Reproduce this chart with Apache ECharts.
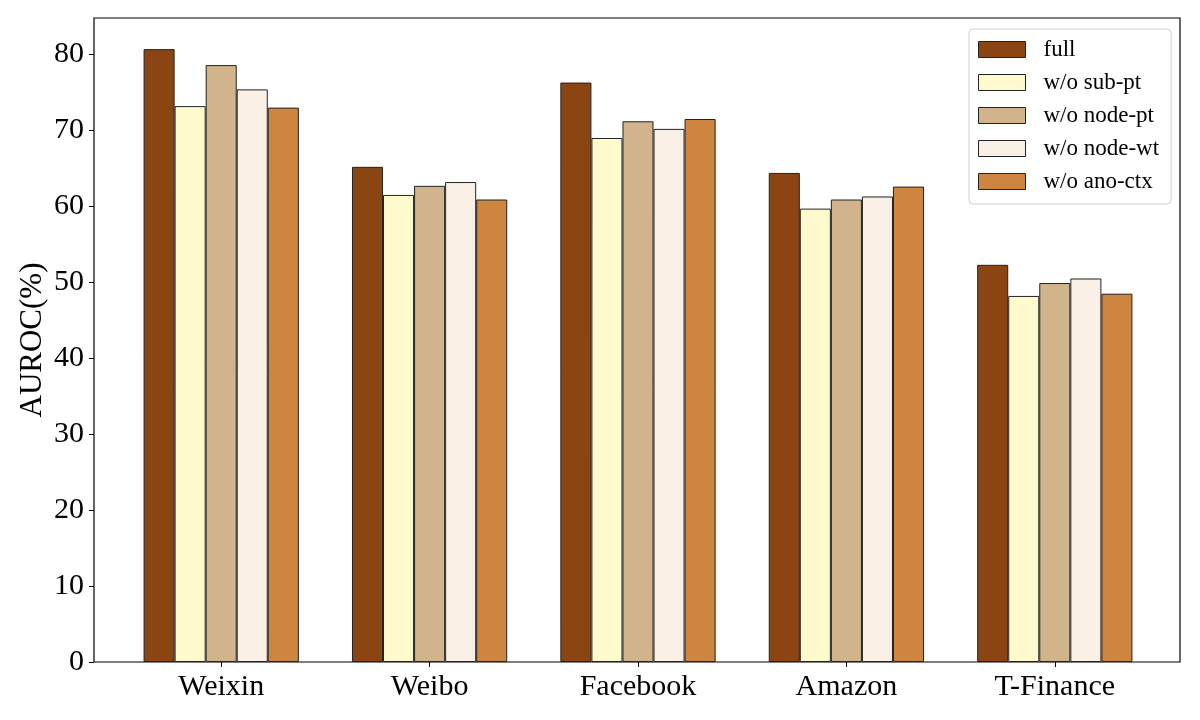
<!DOCTYPE html>
<html>
<head>
<meta charset="utf-8">
<script src="https://cdn.jsdelivr.net/npm/echarts@6/dist/echarts.min.js"></script>
<style>html,body{margin:0;padding:0;background:#fff;}#c{width:1200px;height:720px;}</style>
</head>
<body>
<div id="c"></div>
<script>
const categories = ['Weixin', 'Weibo', 'Facebook', 'Amazon', 'T-Finance'];
const seriesNames = ['full', 'w/o sub-pt', 'w/o node-pt', 'w/o node-wt', 'w/o ano-ctx'];
const full      = [80.7, 65.2, 76.3, 64.4, 52.3];
const woSubPt   = [73.2, 61.5, 69.0, 59.7, 48.2];
const woNodePt  = [78.6, 62.7, 71.2, 60.9, 49.9];
const woNodeWt  = [75.4, 63.2, 70.2, 61.3, 50.5];
const woAnoCtx  = [73.0, 60.9, 71.5, 62.6, 48.5];
const yTicks = [0, 10, 20, 30, 40, 50, 60, 70, 80];

const colors = ['#8B4513', '#FFFACD', '#D2B48C', '#FAF0E6', '#CD853F'];
const values = [full, woSubPt, woNodePt, woNodeWt, woAnoCtx];
const font = 'Liberation Serif, Times New Roman, serif';

const chart = echarts.init(document.getElementById('c'), null, {renderer: 'canvas'});
chart.setOption({
  animation: false,
  backgroundColor: '#fff',
  color: colors,
  grid: [
    {left: 94, right: 20, top: 18, bottom: 58, show: true, borderColor: '#000', borderWidth: 1.2, backgroundColor: 'transparent'},
    {left: 117, right: 41, top: 18, bottom: 58}
  ],
  legend: {
    left: 969, top: 29,
    orient: 'vertical',
    icon: 'rect',
    itemWidth: 47, itemHeight: 16, itemGap: 10,
    padding: [9, 12, 11, 9],
    borderColor: '#d0d0d0', borderWidth: 1, borderRadius: 4,
    backgroundColor: '#fff',
    textStyle: {fontFamily: font, fontSize: 23, color: '#000', padding: [0, 0, 0, 13]},
    data: seriesNames,
    itemStyle: {borderColor: '#222', borderWidth: 1}
  },
  xAxis: [
    {gridIndex: 0, type: 'value', min: 0, max: 1, show: false},
    {
      gridIndex: 1, type: 'category', data: categories,
      axisLine: {show: false},
      axisTick: {show: true, alignWithLabel: true, length: 5, lineStyle: {color: '#000'}},
      axisLabel: {fontFamily: font, fontSize: 30, color: '#000', margin: 10}
    }
  ],
  yAxis: [
    {gridIndex: 0, type: 'value', min: 0, max: 1, show: false},
    {
      gridIndex: 1, type: 'value', min: 0, max: 84.8,
      offset: 23,
      name: 'AUROC(%)', nameLocation: 'middle', nameGap: 46,
      nameMoveOverlap: false,
      nameTextStyle: {fontFamily: font, fontSize: 31, color: '#000'},
      axisLine: {show: false},
      axisTick: {show: true, length: 5, lineStyle: {color: '#000'}, customValues: yTicks},
      splitLine: {show: false},
      axisLabel: {fontFamily: font, fontSize: 30, color: '#000', margin: 10, customValues: yTicks}
    }
  ],
  series: values.map((d, i) => ({
    name: seriesNames[i], type: 'bar', xAxisIndex: 1, yAxisIndex: 1,
    data: d, barGap: '0%', barCategoryGap: '25.5%',
    itemStyle: {color: colors[i], borderColor: '#222', borderWidth: 1}
  }))
});
</script>
</body>
</html>
